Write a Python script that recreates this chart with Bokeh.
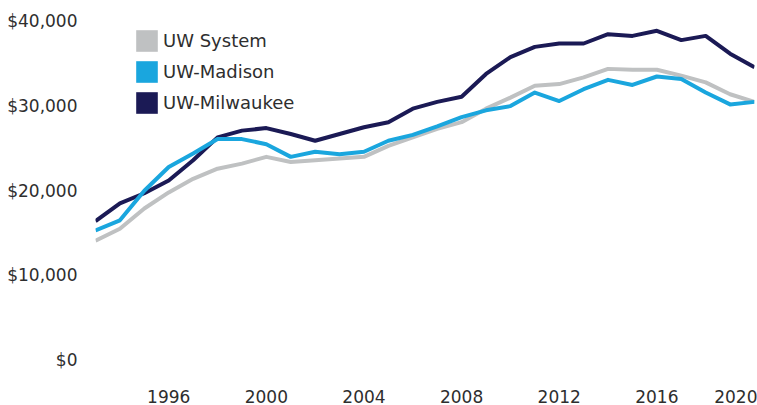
from bokeh.plotting import figure
from bokeh.models import (Range1d, FixedTicker, NumeralTickFormatter, Legend,
                          LegendItem, ColumnDataSource)
from bokeh.embed import file_html
from bokeh.resources import INLINE

# ---- data -------------------------------------------------------------
years = list(range(1993, 2021))
uw_system = [14100, 15500, 17900, 19800, 21400, 22600, 23200, 24000,
             23400, 23600, 23800, 24000, 25300, 26300, 27300, 28100,
             29700, 31000, 32400, 32600, 33400, 34400, 34300, 34300,
             33600, 32800, 31400, 30500]
uw_madison = [15300, 16500, 20000, 22800, 24400, 26100, 26100, 25500,
              24000, 24600, 24300, 24600, 25900, 26600, 27600, 28700,
              29500, 30000, 31600, 30600, 32000, 33100, 32500, 33500,
              33200, 31600, 30200, 30500]
uw_milwaukee = [16400, 18500, 19700, 21200, 23600, 26300, 27100, 27400,
                26700, 25900, 26700, 27500, 28100, 29700, 30500, 31100,
                33800, 35800, 37000, 37400, 37400, 38500, 38300, 38900,
                37800, 38300, 36200, 34600]
series_names = ["UW System", "UW-Madison", "UW-Milwaukee"]
series_colors = ["#bfc1c2", "#1aa6de", "#1b1a55"]
x_ticks = [1996, 2000, 2004, 2008, 2012, 2016, 2020]
y_ticks = [0, 10000, 20000, 30000, 40000]

FONT = "DejaVu Sans"
TXT = "#2e2e2e"

p = figure(width=757, height=405, output_backend="svg", toolbar_location=None,
           x_range=Range1d(years[0], years[-1]), y_range=Range1d(-1607, 41300),
           min_border_left=95, min_border_right=3, min_border_top=10,
           min_border_bottom=32)
p.outline_line_color = None
p.grid.visible = False
p.background_fill_color = "white"

src = ColumnDataSource(dict(x=years, s=uw_system, m=uw_madison, w=uw_milwaukee))
r_s = p.line("x", "s", source=src, line_color=series_colors[0], line_width=4,
             line_join="round")
r_w = p.line("x", "w", source=src, line_color=series_colors[2], line_width=4,
             line_join="round")
r_m = p.line("x", "m", source=src, line_color=series_colors[1], line_width=4,
             line_join="round")

# legend swatches (square patches that draw nothing in the plot area)
nan = float("nan")
sw = []
for c in series_colors:
    sw.append(p.quad(left=[nan], right=[nan], top=[nan], bottom=[nan],
                     fill_color=c, line_color=None))
legend = Legend(items=[LegendItem(label=n, renderers=[r]) for n, r in zip(series_names, sw)],
                location=(38, 257), orientation="vertical",
                glyph_width=27, glyph_height=27, spacing=4, padding=0, margin=0,
                label_standoff=3, label_text_font=FONT, label_text_font_size="18px",
                label_text_color=TXT, border_line_color=None,
                background_fill_alpha=0)
p.add_layout(legend, "center")

# axes
yax = p.yaxis[0]
yax.ticker = FixedTicker(ticks=y_ticks)
yax.formatter = NumeralTickFormatter(format="$0,0")
yax.axis_line_color = None
yax.major_tick_line_color = None
yax.minor_tick_line_color = None
yax.major_label_standoff = 12
yax.major_label_text_font = FONT
yax.major_label_text_font_size = "17px"
yax.major_label_text_color = TXT

xax = p.xaxis[0]
xax.ticker = FixedTicker(ticks=x_ticks)
xax.axis_line_color = None
xax.major_tick_line_color = None
xax.minor_tick_line_color = None
xax.major_label_standoff = 10
xax.major_label_text_font = FONT
xax.major_label_text_font_size = "17px"
xax.major_label_text_color = TXT

open("out.html", "w").write(file_html(p, INLINE))
